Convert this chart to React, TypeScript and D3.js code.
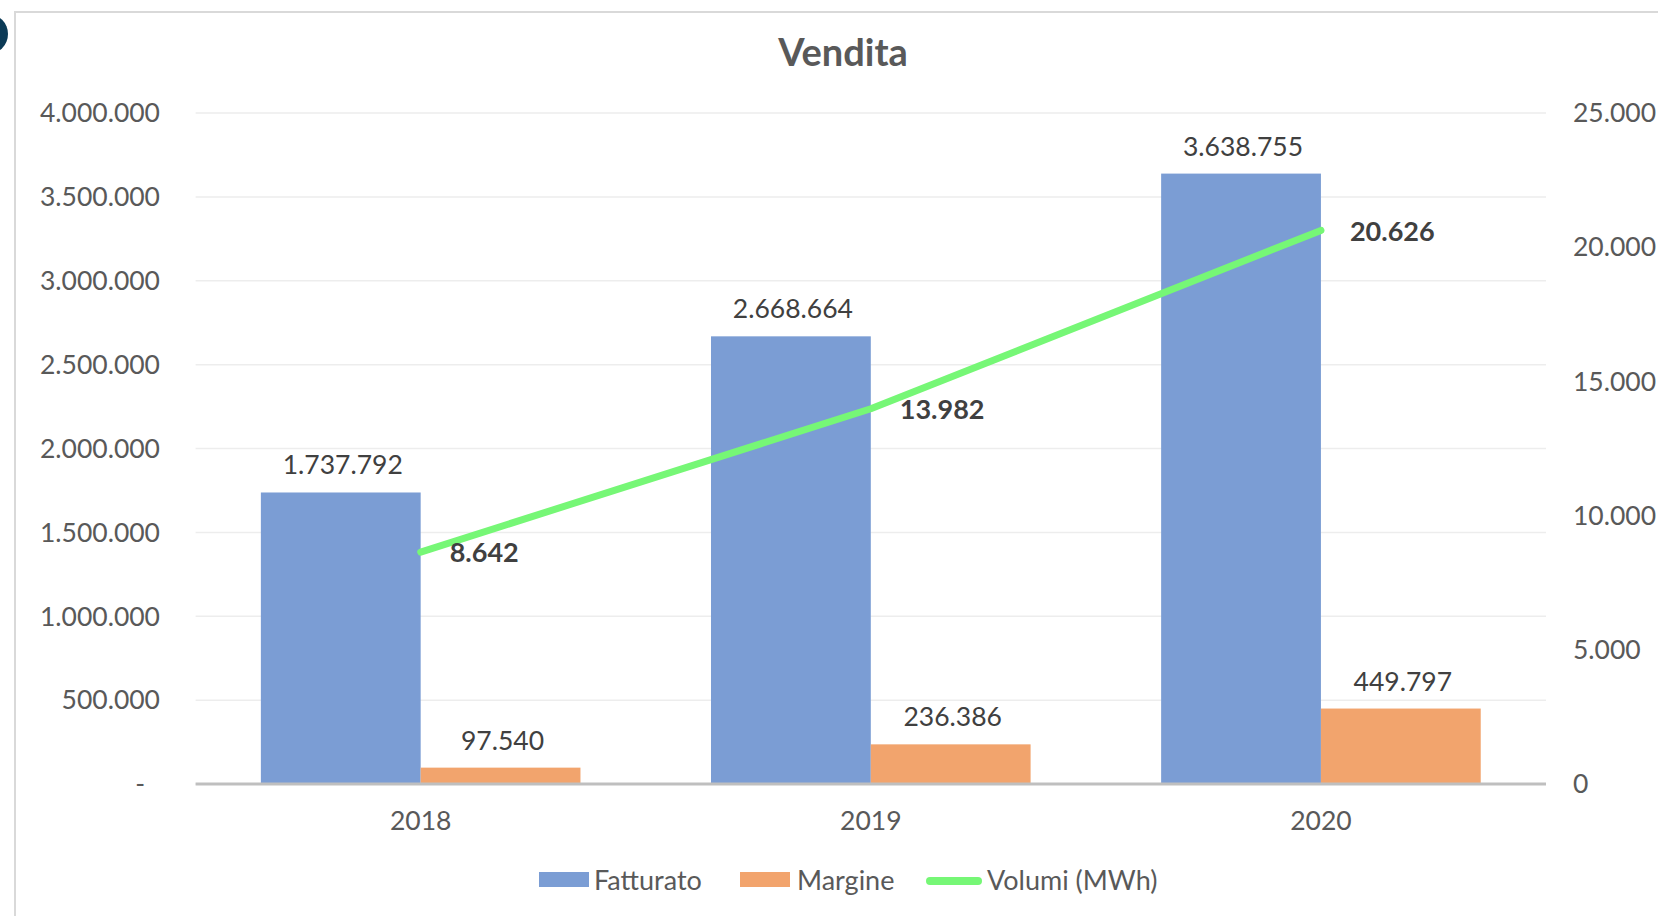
import React from "react";
import * as d3 from "d3";

const years = ["2018", "2019", "2020"];
const fatturato = [1737792, 2668664, 3638755];
const margine = [97540, 236386, 449797];
const volumi = [8642, 13982, 20626];
const leftTicks = [0, 500000, 1000000, 1500000, 2000000, 2500000, 3000000, 3500000, 4000000];
const rightTicks = [0, 5000, 10000, 15000, 20000, 25000];
const seriesNames = ["Fatturato", "Margine", "Volumi (MWh)"];

const W = 1658;
const H = 916;
const FONT = "Lato, 'Open Sans', sans-serif";
const BLUE = "#7b9dd4";
const ORANGE = "#f2a46d";
const GREEN = "#76f776";

const num = (v: number) => d3.format(",")(v).replace(/,/g, ".");
const fmt = (v: number) => (v === 0 ? "-" : num(v));

export default function App() {
  const left = 195.6;
  const right = 1546;
  const top = 113;
  const bottom = 784;

  const x = d3.scaleBand<string>().domain(years).range([left, right]).paddingInner(0.29).paddingOuter(0.145);
  const xs = d3.scaleBand<string>().domain(["f", "m"]).range([0, x.bandwidth()]).padding(0);
  const yL = d3.scaleLinear().domain([0, 4000000]).range([bottom, top]);
  const yR = d3.scaleLinear().domain([0, 25000]).range([bottom, top]);

  const line = d3
    .line<number>()
    .x((_, i) => (x(years[i]) as number) + x.bandwidth() / 2)
    .y((d) => yR(d));

  return (
    <svg
      width={W}
      height={H}
      style={{ position: "absolute", left: 0, top: 0, display: "block", background: "#fff" }}
      fontFamily={FONT}
    >
      <rect x={0} y={0} width={W} height={H} fill="#fff" />
      <path d={`M15,${H} L15,12 L${W},12`} fill="none" stroke="#d9d9d9" strokeWidth={2} />
      <circle cx={-12} cy={34} r={20} fill="#0b3a56" />

      <text x={843} y={66} textAnchor="middle" fontSize={38} fontWeight={700} fill="#595959">
        Vendita
      </text>

      {leftTicks.map((t) => (
        <line key={"g" + t} x1={left} x2={right} y1={yL(t)} y2={yL(t)} stroke="#ededed" strokeWidth={1.5} />
      ))}

      {leftTicks.map((t) => (
        <text
          key={"l" + t}
          x={t === 0 ? 145 : 160}
          y={yL(t)}
          dy="0.35em"
          textAnchor="end"
          fontSize={26.5}
          fill="#595959"
        >
          {fmt(t)}
        </text>
      ))}

      {rightTicks.map((t) => (
        <text key={"r" + t} x={1573} y={yR(t)} dy="0.35em" textAnchor="start" fontSize={26.5} fill="#595959">
          {num(t)}
        </text>
      ))}

      {years.map((yr, i) => {
        const bx = x(yr) as number;
        const fx = bx + (xs("f") as number);
        const mx = bx + (xs("m") as number);
        const bw = xs.bandwidth();
        return (
          <g key={yr}>
            <rect x={fx} y={yL(fatturato[i])} width={bw} height={bottom - yL(fatturato[i])} fill={BLUE} />
            <rect x={mx} y={yL(margine[i])} width={bw} height={bottom - yL(margine[i])} fill={ORANGE} />
            <text x={fx + bw / 2 + 2} y={yL(fatturato[i]) - 18} textAnchor="middle" fontSize={26.5} fill="#404040">
              {fmt(fatturato[i])}
            </text>
            <text x={mx + bw / 2 + 2} y={yL(margine[i]) - 18} textAnchor="middle" fontSize={26.5} fill="#404040">
              {fmt(margine[i])}
            </text>
          </g>
        );
      })}

      <line x1={left} x2={right} y1={bottom} y2={bottom} stroke="#bfbfbf" strokeWidth={3} />

      {years.map((yr) => (
        <text
          key={"c" + yr}
          x={(x(yr) as number) + x.bandwidth() / 2}
          y={830}
          textAnchor="middle"
          fontSize={26.5}
          fill="#595959"
        >
          {yr}
        </text>
      ))}

      <path d={line(volumi) || ""} fill="none" stroke={GREEN} strokeWidth={7} strokeLinecap="round" strokeLinejoin="round" />
      {volumi.map((v, i) => (
        <text
          key={"v" + i}
          x={(x(years[i]) as number) + x.bandwidth() / 2 + 29}
          y={yR(v)}
          dy="0.38em"
          fontSize={27}
          fontWeight={700}
          fill="#404040"
        >
          {fmt(v)}
        </text>
      ))}

      <rect x={539} y={872} width={50} height={15} fill={BLUE} />
      <text x={594} y={880} dy="0.36em" fontSize={27} fill="#595959">
        {seriesNames[0]}
      </text>
      <rect x={740} y={872} width={50} height={15} fill={ORANGE} />
      <text x={797} y={880} dy="0.36em" fontSize={27} fill="#595959">
        {seriesNames[1]}
      </text>
      <line x1={930} x2={978} y1={881} y2={881} stroke={GREEN} strokeWidth={8} strokeLinecap="round" />
      <text x={987} y={880} dy="0.36em" fontSize={27} fill="#595959">
        {seriesNames[2]}
      </text>
    </svg>
  );
}
